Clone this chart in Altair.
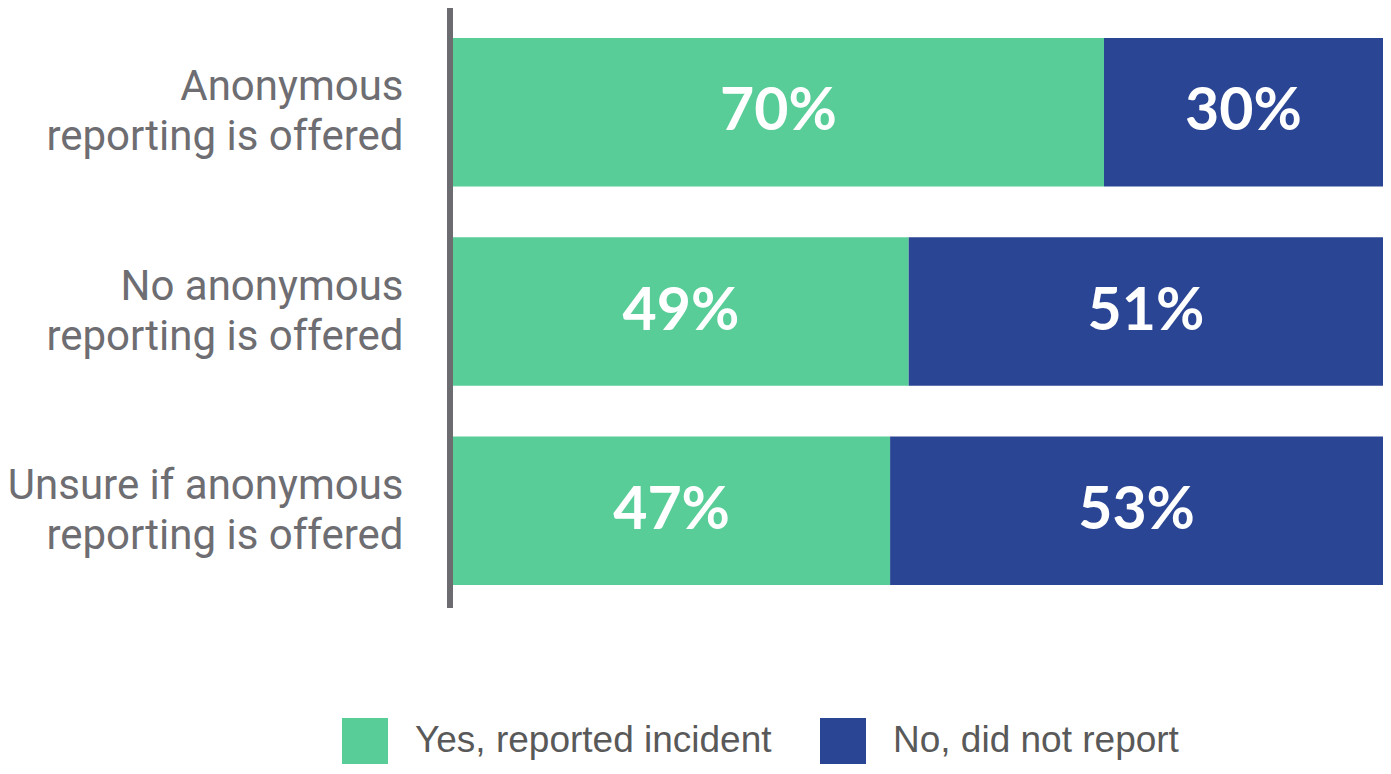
import altair as alt
import pandas as pd

categories = [
    "Anonymous|reporting is offered",
    "No anonymous|reporting is offered",
    "Unsure if anonymous|reporting is offered",
]
responses = ["Yes, reported incident", "No, did not report"]
yes_values = [70, 49, 47]
no_values = [30, 51, 53]
colors = ["#59CD98", "#2A4594"]

rows = []
for c, y, n in zip(categories, yes_values, no_values):
    rows.append({"category": c, "response": responses[0], "value": y, "order": 0})
    rows.append({"category": c, "response": responses[1], "value": n, "order": 1})
df = pd.DataFrame(rows)

y_enc = alt.Y(
    "category:N",
    sort=categories,
    scale=alt.Scale(paddingInner=0.255, paddingOuter=0.15),
    axis=alt.Axis(
        title=None,
        domain=False,
        ticks=False,
        labelExpr="split(datum.label, '|')",
        labelFont="Roboto",
        labelFontSize=42,
        labelLineHeight=50,
        labelColor="#6d6d72",
        labelPadding=50,
        labelAlign="right",
        labelBaseline="middle",
        labelOffset=-25,
        labelLimit=600,
    ),
)

base = alt.Chart(df)

bars = base.mark_bar().encode(
    y=y_enc,
    x=alt.X("value:Q", stack="zero", scale=alt.Scale(domain=[0, 100]), axis=None),
    color=alt.Color(
        "response:N",
        scale=alt.Scale(domain=responses, range=colors),
        legend=alt.Legend(
            title=None,
            orient="none",
            direction="horizontal",
            legendX=-111,
            legendY=710,
            symbolType="square",
            symbolSize=2116,
            symbolStrokeWidth=0,
            symbolOpacity=1,
            labelFont="Liberation Sans",
            labelFontSize=37,
            labelColor="#595959",
            labelOffset=27,
            columnPadding=48,
            labelLimit=800,
            padding=0,
        ),
    ),
    order=alt.Order("order:Q"),
)

labels = (
    base.transform_stack(
        stack="value",
        groupby=["category"],
        as_=["x0", "x1"],
        sort=[alt.SortField("order")],
    )
    .transform_calculate(mid="(datum.x0 + datum.x1) / 2", txt="datum.value + '%'")
    .mark_text(font="Lato", fontSize=59, fontWeight="bold", color="white", baseline="middle")
    .encode(
        y=alt.Y("category:N", sort=categories),
        x=alt.X("mid:Q"),
        text="txt:N",
    )
)

axis_line = base.mark_rule(color="#6b6b70", strokeWidth=6).encode(
    x=alt.value(-3), y=alt.value(0), y2=alt.value(600)
)

chart = (
    alt.layer(bars, labels, axis_line)
    .properties(
        width=930,
        height=607,
        autosize=alt.AutoSizeParams(type="none"),
        padding={"left": 445, "top": 0, "right": 0, "bottom": 149},
    )
    .configure_view(stroke=None)
)

chart.save("out.html", embed_options={"renderer": "svg", "actions": False})
